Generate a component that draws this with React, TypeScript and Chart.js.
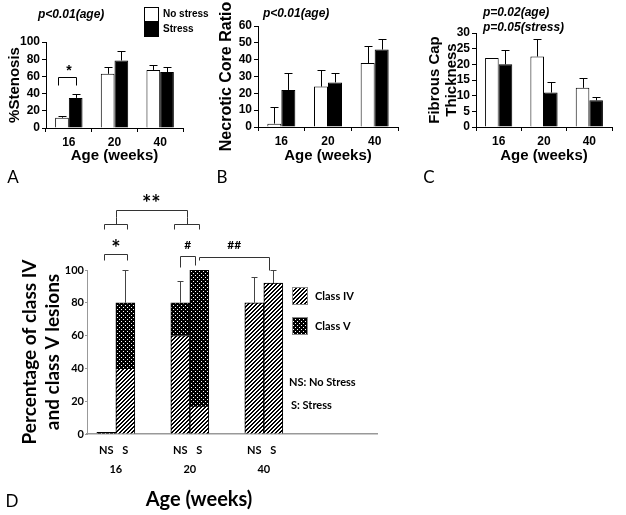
import React, { useEffect, useRef } from 'react';
import { Chart, registerables } from 'chart.js';

Chart.register(...registerables);

const W = 626;
const H = 515;
const SANS = '"Liberation Sans", Arial, Helvetica, sans-serif';
const HUM = 'Lato, "Open Sans", "DejaVu Sans", sans-serif';

// ---------- Panels A–C ----------
const ageLabels = ['16', '20', '40'];
const groupLabels = ['No stress', 'Stress'];

const stenosisNoStress = [12, 63, 67.5];
const stenosisStress = [35, 78.5, 65];
const stenosisNoStressErr = [13.5, 71, 73.5];
const stenosisStressErr = [39.5, 90, 70.5];

const necroticNoStress = [2, 24, 38];
const necroticStress = [22, 26.5, 46];
const necroticNoStressErr = [12, 34, 48];
const necroticStressErr = [32, 32, 52.5];

const capNoStress = [22, 22.5, 12.5];
const capStress = [20, 11, 8.5];
const capNoStressErr = [null, 28, 15.5];
const capStressErr = [24.5, 14.5, 9.5];

// ---------- Panel D ----------
const dAgeLabels = ['16', '20', '40'];
const dPositions = [1, 2, 3];
const dGroupShort = ['NS', 'S'];
const dClassLabels = ['Class IV', 'Class V'];
const classIVNoStress = [0, 60, 80];
const classVNoStress = [1, 20, 0];
const classIVStress = [40, 17, 92];
const classVStress = [40, 83, 0];
const totalNoStressErr = [null, 93, 96];
const totalStressErr = [100, null, 100];

type TextItem = { text: string; x: number; y: number; font: string; align?: CanvasTextAlign; color?: string };

function makeTextPlugin(id: string, items: TextItem[]) {
  return {
    id,
    afterDraw(chart: any) {
      const ctx = chart.ctx as CanvasRenderingContext2D;
      items.forEach((it) => {
        ctx.save();
        ctx.font = it.font;
        ctx.fillStyle = it.color || '#000';
        ctx.textAlign = it.align || 'left';
        ctx.textBaseline = 'middle';
        ctx.fillText(it.text, it.x, it.y);
        ctx.restore();
      });
    },
  };
}

function makeErrorPlugin(color: string, cap: number) {
  return {
    id: 'errorBars',
    afterDatasetsDraw(chart: any) {
      const ctx = chart.ctx as CanvasRenderingContext2D;
      const ys = chart.scales.y;
      chart.data.datasets.forEach((ds: any, i: number) => {
        const tops = ds.errorTop;
        if (!tops) return;
        const meta = chart.getDatasetMeta(i);
        meta.data.forEach((bar: any, j: number) => {
          const t = tops[j];
          if (t == null) return;
          const yt = Math.round(ys.getPixelForValue(t)) + 0.5;
          const x = Math.round(bar.x) + 0.5;
          ctx.save();
          ctx.strokeStyle = color;
          ctx.lineWidth = 1;
          ctx.beginPath();
          ctx.moveTo(x, bar.y);
          ctx.lineTo(x, yt);
          ctx.moveTo(x - cap, yt);
          ctx.lineTo(x + cap, yt);
          ctx.stroke();
          ctx.restore();
        });
      });
    },
  };
}

function makeBoxLegendPlugin(x: number, y0: number, dy: number, box: number, font: string, datasetIdx: number[]) {
  return {
    id: 'boxLegend',
    afterDraw(chart: any) {
      const ctx = chart.ctx as CanvasRenderingContext2D;
      datasetIdx.forEach((di, k) => {
        const ds = chart.data.datasets[di];
        const y = y0 + k * dy;
        ctx.save();
        ctx.fillStyle = ds.backgroundColor;
        ctx.fillRect(x, y, box, box);
        ctx.strokeStyle = '#000';
        ctx.lineWidth = 1;
        ctx.strokeRect(x + 0.5, y + 0.5, box - 1, box - 1);
        ctx.font = font;
        ctx.fillStyle = '#000';
        ctx.textBaseline = 'middle';
        ctx.fillText(ds.label, x + box + 4, y + box / 2);
        ctx.restore();
      });
    },
  };
}

type Area = { l: number; r: number; t: number; b: number };

function abcConfig(opts: {
  noStress: number[];
  stress: number[];
  noStressErr: (number | null)[];
  stressErr: (number | null)[];
  yMax: number;
  yStep: number;
  yTitle: string | string[];
  yTitleSize: number;
  yTitleLH: number;
  titleCenterX: number;
  area: Area;
  extraPlugins: any[];
}) {
  const lh = opts.yTitleSize * opts.yTitleLH;
  const padL = opts.titleCenterX - lh / 2;
  const yW = opts.area.l - padL;
  const xTitleSize = 15;
  const xH = 156 + (xTitleSize * 1.2) / 2 - opts.area.b;
  const tickFont = { family: SANS, size: 12, weight: 'bold' as const };
  return {
    type: 'bar' as const,
    data: {
      labels: ageLabels,
      datasets: [
        {
          label: groupLabels[0],
          data: opts.noStress,
          errorTop: opts.noStressErr,
          backgroundColor: '#ffffff',
          borderColor: '#000000',
          borderWidth: 1,
        },
        {
          label: groupLabels[1],
          data: opts.stress,
          errorTop: opts.stressErr,
          backgroundColor: '#000000',
          borderColor: '#000000',
          borderWidth: 1,
        },
      ],
    },
    options: {
      responsive: false,
      animation: false as const,
      devicePixelRatio: 1,
      events: [],
      layout: {
        padding: { left: padL, top: opts.area.t, right: W - opts.area.r, bottom: H - (opts.area.b + xH) },
      },
      datasets: { bar: { categoryPercentage: 0.6, barPercentage: 1 } },
      plugins: { legend: { display: false }, tooltip: { enabled: false } },
      scales: {
        x: {
          afterFit: (s: any) => {
            s.height = xH;
          },
          grid: { offset: true, drawOnChartArea: false, color: '#000', tickLength: 4 },
          border: { color: '#000', width: 1 },
          ticks: { color: '#000', font: tickFont, padding: 3 },
          title: {
            display: true,
            text: 'Age (weeks)',
            color: '#000',
            font: { family: SANS, size: xTitleSize, weight: 'bold' as const, lineHeight: 1.2 },
            padding: 0,
          },
        },
        y: {
          min: 0,
          max: opts.yMax,
          afterFit: (s: any) => {
            s.width = yW;
          },
          ticks: { stepSize: opts.yStep, autoSkip: false, color: '#000', font: tickFont, padding: 2 },
          grid: { drawOnChartArea: false, color: '#000', tickLength: 4 },
          border: { color: '#000', width: 1 },
          title: {
            display: true,
            text: opts.yTitle,
            color: '#000',
            font: { family: SANS, size: opts.yTitleSize, weight: 'bold' as const, lineHeight: opts.yTitleLH },
            padding: 0,
          },
        },
      },
    },
    plugins: [makeErrorPlugin('#000', 4), ...opts.extraPlugins],
  };
}

function hatchPattern(): CanvasPattern | string {
  const c = document.createElement('canvas');
  c.width = 4;
  c.height = 4;
  const g = c.getContext('2d');
  if (!g) return '#777';
  g.fillStyle = '#fff';
  g.fillRect(0, 0, 4, 4);
  g.fillStyle = '#000';
  for (let y = 0; y < 4; y++) {
    const x = (3 - y + 4) % 4;
    g.fillRect(x, y, 1, 1);
    g.fillRect((x + 1) % 4, y, 1, 1);
  }
  return g.createPattern(c, 'repeat') || '#777';
}

function dotPattern(): CanvasPattern | string {
  const c = document.createElement('canvas');
  c.width = 4;
  c.height = 4;
  const g = c.getContext('2d');
  if (!g) return '#111';
  g.fillStyle = '#000';
  g.fillRect(0, 0, 4, 4);
  g.fillStyle = '#fff';
  g.fillRect(1, 1, 1, 1);
  g.fillRect(3, 3, 1, 1);
  return g.createPattern(c, 'repeat') || '#111';
}

function dConfig() {
  const hatch = hatchPattern();
  const dots = dotPattern();
  const area: Area = { l: 87, r: 377, t: 270, b: 434 };
  const yTitleSize = 19;
  const yLH = 1.2;
  const padL = 30 - (yTitleSize * yLH) / 2;
  const yW = area.l - padL;
  const xH = 60;
  const xy = (arr: number[]) => dPositions.map((x, i) => ({ x, y: arr[i] }));
  const common = { borderColor: '#000', borderWidth: 1 };

  const annotations = {
    id: 'dAnnotations',
    afterDraw(chart: any) {
      const ctx = chart.ctx as CanvasRenderingContext2D;
      const ys = chart.scales.y;
      const xs = chart.scales.x;
      const ns = chart.getDatasetMeta(1).data.map((b: any) => b.x);
      const st = chart.getDatasetMeta(3).data.map((b: any) => b.x);
      const Y = (v: number) => Math.round(ys.getPixelForValue(v)) + 0.5;
      const X = (v: number) => Math.round(v) + 0.5;
      ctx.save();
      ctx.strokeStyle = '#333';
      ctx.lineWidth = 1;
      const bracket = (x1: number, x2: number, yv: number, l1: number, l2: number) => {
        ctx.beginPath();
        ctx.moveTo(X(x1), Y(l1));
        ctx.lineTo(X(x1), Y(yv));
        ctx.lineTo(X(x2), Y(yv));
        ctx.lineTo(X(x2), Y(l2));
        ctx.stroke();
      };
      const brace = (x1: number, x2: number, yv: number, leg: number, tip: number) => {
        bracket(x1, x2, yv, leg, leg);
        const cx = (x1 + x2) / 2;
        ctx.beginPath();
        ctx.moveTo(X(cx), Y(yv));
        ctx.lineTo(X(cx), Y(tip));
        ctx.stroke();
      };
      // * (16 weeks NS vs S)
      bracket(ns[0] - 2, st[0] + 2, 109.8, 106, 106);
      // # (20 weeks)
      bracket(ns[1], st[1] - 4, 108.5, 102, 103);
      // ## (20 S vs 40)
      bracket(st[1], st[2] - 4, 108, 106, 100);
      // braces and ** bracket
      const lb1 = ns[0] - 2, lb2 = st[0] + 2;
      const rb1 = ns[1] - 6, rb2 = st[1];
      brace(lb1, lb2, 128, 125, 132.3);
      brace(rb1, rb2, 128, 125, 132.3);
      bracket((lb1 + lb2) / 2, (rb1 + rb2) / 2, 136.6, 132.3, 132.3);

      ctx.fillStyle = '#000';
      ctx.textAlign = 'center';
      ctx.textBaseline = 'middle';
      ctx.font = `bold 22px ${HUM}`;
      ctx.fillText('*', (ns[0] + st[0]) / 2, ys.getPixelForValue(113));
      ctx.fillText('**', ((lb1 + lb2) / 2 + (rb1 + rb2) / 2) / 2, ys.getPixelForValue(140));
      ctx.font = `bold 12px ${HUM}`;
      ctx.fillText('#', (ns[1] + st[1] - 4) / 2, ys.getPixelForValue(115));
      ctx.fillText('##', (st[1] + st[2] - 4) / 2, ys.getPixelForValue(115));

      // group labels under bars
      ctx.font = `bold 11px ${HUM}`;
      for (let i = 0; i < dPositions.length; i++) {
        ctx.fillText(dGroupShort[0], ns[i], xs.top + 16);
        ctx.fillText(dGroupShort[1], st[i], xs.top + 16);
      }

      // legend
      const lx = 292;
      [0, 1].forEach((di, k) => {
        const ds = chart.data.datasets[di];
        const ly = 287 + k * 30;
        ctx.fillStyle = ds.backgroundColor;
        ctx.fillRect(lx, ly, 16, 18);
        ctx.strokeStyle = '#888';
        ctx.strokeRect(lx + 0.5, ly + 0.5, 15, 17);
        ctx.fillStyle = '#000';
        ctx.textAlign = 'left';
        ctx.font = `bold 11px ${HUM}`;
        ctx.fillText(dClassLabels[k], lx + 23, ly + 9);
      });
      ctx.fillText('NS: No Stress', 289, 382);
      ctx.fillText('S: Stress', 291, 405);

      ctx.textAlign = 'center';
      ctx.font = `bold 20px ${HUM}`;
      ctx.fillText('Age (weeks)', 199, 500);
      ctx.restore();
    },
  };

  return {
    type: 'bar' as const,
    data: {
      datasets: [
        { label: dClassLabels[0], stack: 'NS', data: xy(classIVNoStress), backgroundColor: hatch, ...common },
        {
          label: dClassLabels[1],
          stack: 'NS',
          data: xy(classVNoStress),
          errorTop: totalNoStressErr,
          backgroundColor: dots,
          ...common,
        },
        { label: dClassLabels[0], stack: 'S', data: xy(classIVStress), backgroundColor: hatch, ...common },
        {
          label: dClassLabels[1],
          stack: 'S',
          data: xy(classVStress),
          errorTop: totalStressErr,
          backgroundColor: dots,
          ...common,
        },
      ],
    },
    options: {
      responsive: false,
      animation: false as const,
      devicePixelRatio: 1,
      events: [],
      layout: { padding: { left: padL, top: area.t, right: W - area.r, bottom: H - (area.b + xH) } },
      datasets: { bar: { barThickness: 19 } },
      plugins: { legend: { display: false }, tooltip: { enabled: false } },
      scales: {
        x: {
          type: 'linear' as const,
          min: 0.61,
          max: 4.53,
          offset: false,
          afterFit: (s: any) => {
            s.height = xH;
          },
          afterBuildTicks: (s: any) => {
            s.ticks = dPositions.map((v) => ({ value: v }));
          },
          grid: { offset: false, drawOnChartArea: false, drawTicks: false },
          border: { color: '#999', width: 1.5 },
          ticks: {
            color: '#000',
            font: { family: HUM, size: 11, weight: 'bold' as const },
            padding: 29,
            autoSkip: false,
            maxRotation: 0,
            callback: (v: number) => dAgeLabels[dPositions.indexOf(v)] ?? '',
          },
        },
        y: {
          stacked: true,
          min: 0,
          max: 100,
          afterFit: (s: any) => {
            s.width = yW;
          },
          ticks: {
            stepSize: 20,
            autoSkip: false,
            color: '#000',
            font: { family: HUM, size: 11, weight: 'bold' as const },
            padding: 1,
          },
          grid: { drawOnChartArea: false, color: '#999', tickLength: 2 },
          border: { color: '#999', width: 1 },
          title: {
            display: true,
            text: ['Percentage of class IV', 'and class V lesions'],
            color: '#000',
            font: { family: HUM, size: yTitleSize, weight: 'bold' as const, lineHeight: yLH },
            padding: 0,
          },
        },
      },
    },
    plugins: [makeErrorPlugin('#444', 3), annotations],
  };
}

const LETTER = `17px ${HUM}`;
const PFONT = `italic bold 12px ${SANS}`;

export default function App() {
  const r0 = useRef<HTMLCanvasElement>(null);
  const r1 = useRef<HTMLCanvasElement>(null);
  const r2 = useRef<HTMLCanvasElement>(null);
  const r3 = useRef<HTMLCanvasElement>(null);

  useEffect(() => {
    const cfgA = abcConfig({
      noStress: stenosisNoStress,
      stress: stenosisStress,
      noStressErr: stenosisNoStressErr,
      stressErr: stenosisStressErr,
      yMax: 100,
      yStep: 20,
      yTitle: '%Stenosis',
      yTitleSize: 15,
      yTitleLH: 1.2,
      titleCenterX: 15,
      area: { l: 46, r: 183, t: 42, b: 128 },
      extraPlugins: [
        makeBoxLegendPlugin(144, 7, 15, 15, `bold 10px ${SANS}`, [0, 1]),
        makeTextPlugin('textsA', [
          { text: 'p<0.01(age)', x: 38, y: 15, font: PFONT },
          { text: '*', x: 69, y: 71, font: `bold 14px ${SANS}`, align: 'center' },
          { text: 'A', x: 13, y: 178, font: LETTER, align: 'center' },
        ]),
        {
          id: 'sigA',
          afterDraw(chart: any) {
            const ctx = chart.ctx as CanvasRenderingContext2D;
            const m0 = chart.getDatasetMeta(0).data[0];
            const m1 = chart.getDatasetMeta(1).data[0];
            const ys = chart.scales.y;
            const yH = Math.round(ys.getPixelForValue(59)) + 0.5;
            const yL = Math.round(ys.getPixelForValue(50)) + 0.5;
            const x1 = Math.round(m0.x - 4) + 0.5;
            const x2 = Math.round(m1.x) + 0.5;
            ctx.save();
            ctx.strokeStyle = '#000';
            ctx.lineWidth = 1;
            ctx.beginPath();
            ctx.moveTo(x1, yL);
            ctx.lineTo(x1, yH);
            ctx.lineTo(x2, yH);
            ctx.lineTo(x2, yL);
            ctx.stroke();
            ctx.restore();
          },
        },
      ],
    });
    const cfgB = abcConfig({
      noStress: necroticNoStress,
      stress: necroticStress,
      noStressErr: necroticNoStressErr,
      stressErr: necroticStressErr,
      yMax: 60,
      yStep: 10,
      yTitle: 'Necrotic Core Ratio',
      yTitleSize: 16,
      yTitleLH: 1.2,
      titleCenterX: 227,
      area: { l: 258, r: 398, t: 26, b: 127 },
      extraPlugins: [
        makeTextPlugin('textsB', [
          { text: 'p<0.01(age)', x: 263, y: 14, font: PFONT },
          { text: 'B', x: 222, y: 178, font: LETTER, align: 'center' },
        ]),
      ],
    });
    const cfgC = abcConfig({
      noStress: capNoStress,
      stress: capStress,
      noStressErr: capNoStressErr,
      stressErr: capStressErr,
      yMax: 30,
      yStep: 5,
      yTitle: ['Fibrous Cap', 'Thickness'],
      yTitleSize: 15,
      yTitleLH: 1.15,
      titleCenterX: 435,
      area: { l: 476, r: 612, t: 33, b: 127 },
      extraPlugins: [
        makeTextPlugin('textsC', [
          { text: 'p=0.02(age)', x: 483, y: 13, font: PFONT },
          { text: 'p=0.05(stress)', x: 483, y: 28, font: PFONT },
          { text: 'C', x: 429, y: 178, font: LETTER, align: 'center' },
          { text: 'D', x: 12, y: 502, font: LETTER, align: 'center' },
        ]),
      ],
    });
    const charts = [
      new Chart(r0.current as HTMLCanvasElement, cfgA as any),
      new Chart(r1.current as HTMLCanvasElement, cfgB as any),
      new Chart(r2.current as HTMLCanvasElement, cfgC as any),
      new Chart(r3.current as HTMLCanvasElement, dConfig() as any),
    ];
    return () => {
      charts.forEach((c) => c.destroy());
    };
  }, []);

  const cs: React.CSSProperties = { position: 'absolute', left: 0, top: 0 };
  return (
    <div style={{ position: 'absolute', left: 0, top: 0, width: W, height: H, background: '#fff', overflow: 'hidden' }}>
      <canvas ref={r0} width={W} height={H} style={cs} />
      <canvas ref={r1} width={W} height={H} style={cs} />
      <canvas ref={r2} width={W} height={H} style={cs} />
      <canvas ref={r3} width={W} height={H} style={cs} />
    </div>
  );
}
